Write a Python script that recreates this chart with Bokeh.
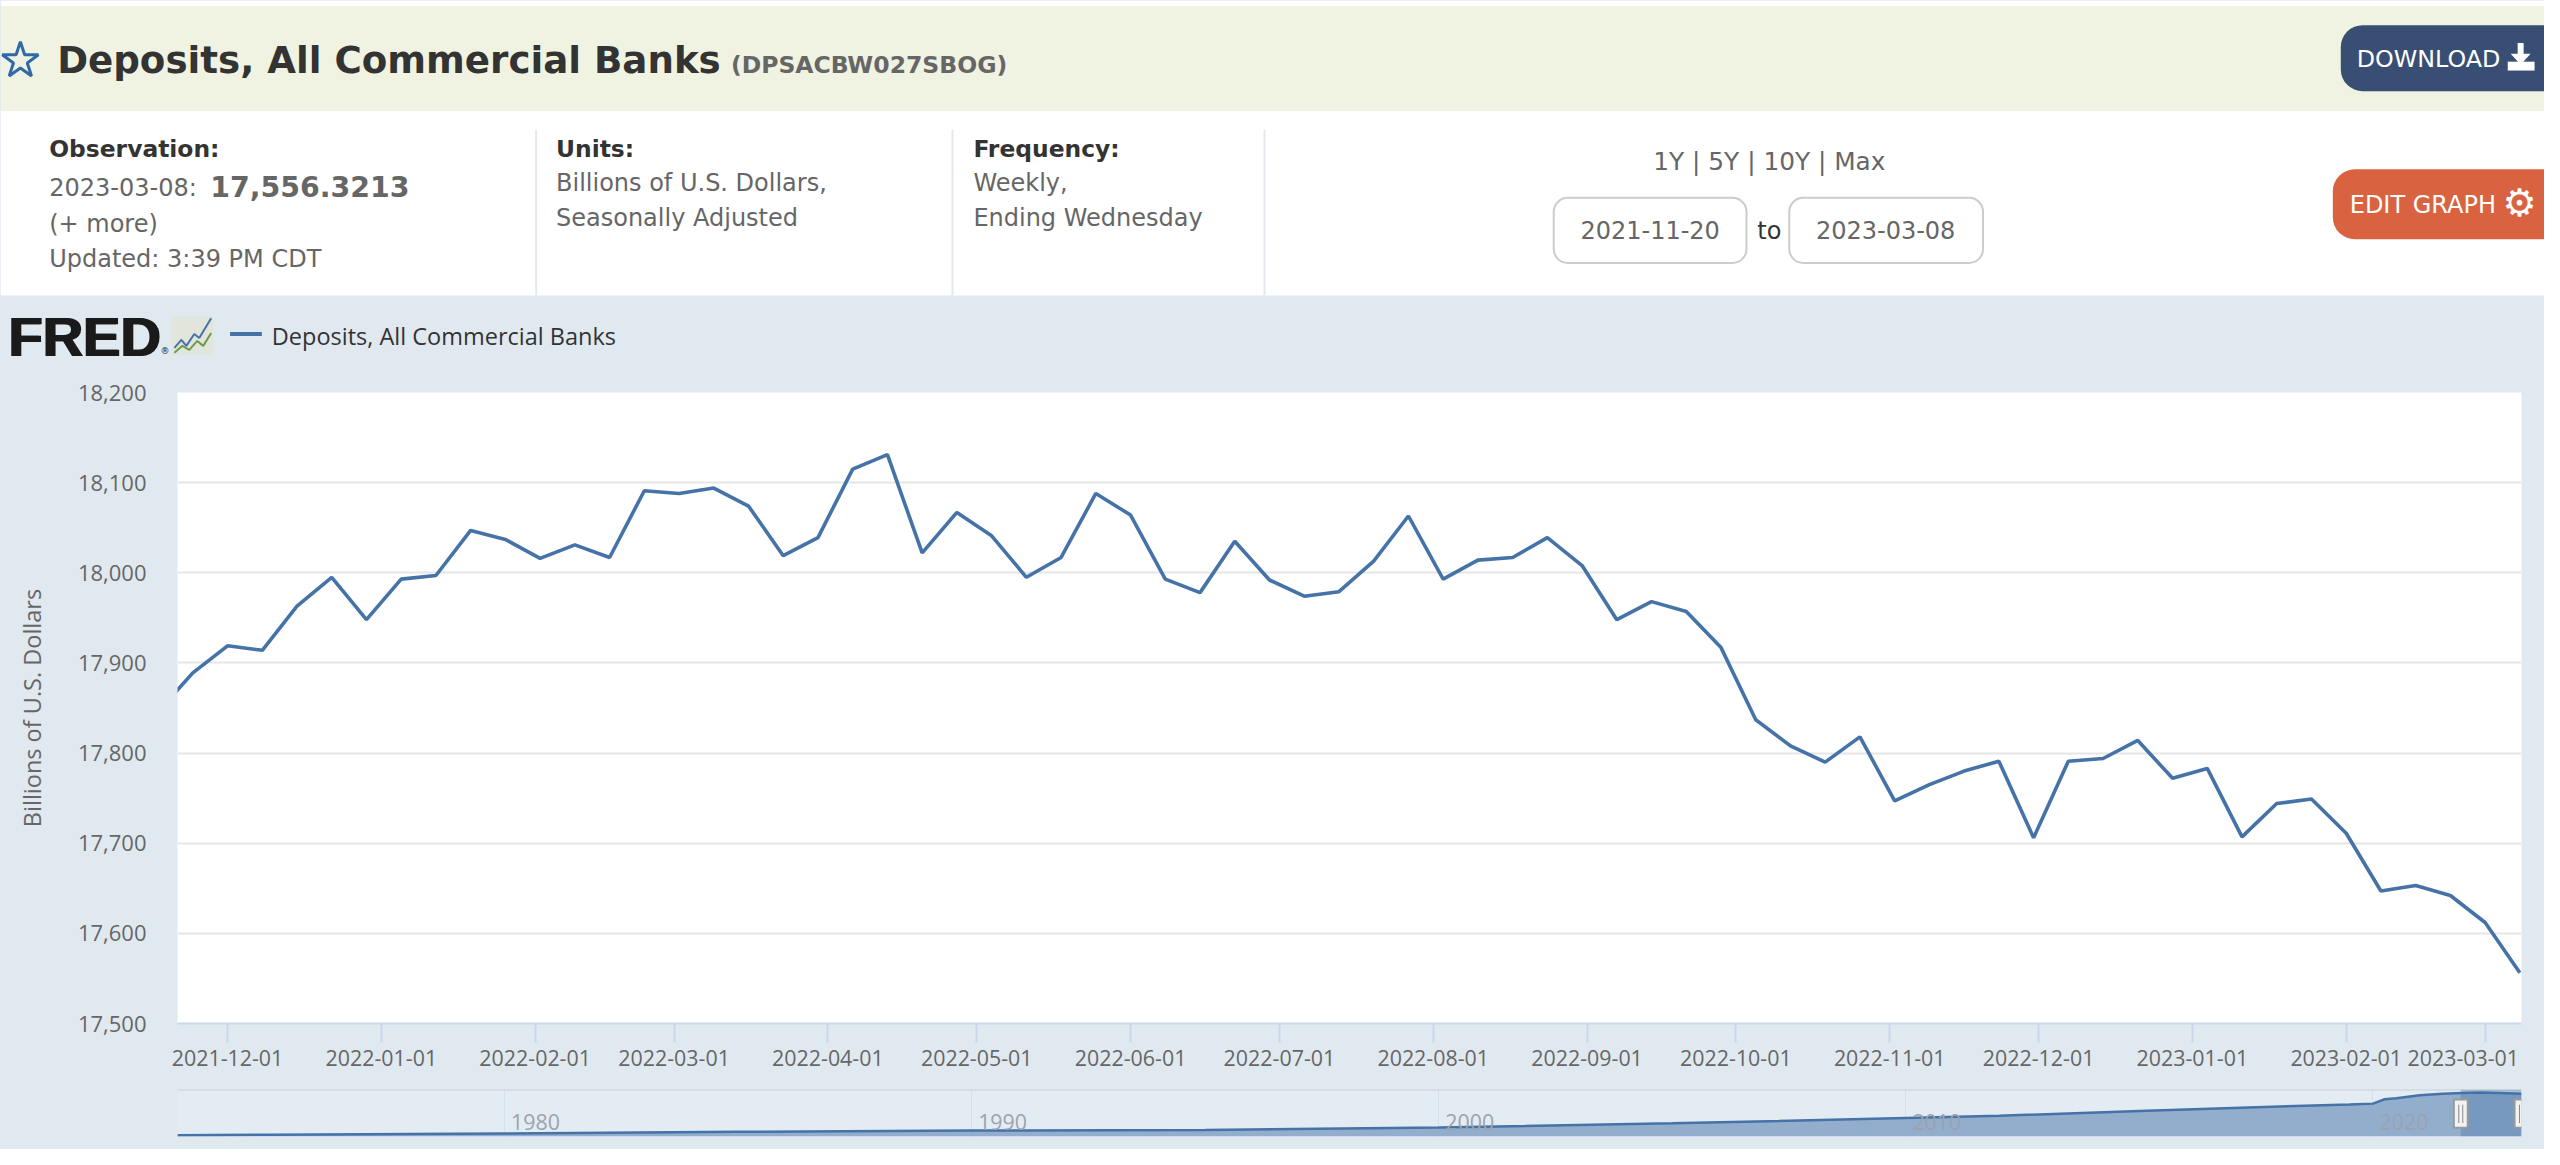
"""Deposits, All Commercial Banks: FRED page header, weekly chart and range navigator."""

import pandas as pd
from bokeh.core.properties import value
from bokeh.embed import file_html
from bokeh.layouts import column
from bokeh.models import (BoxAnnotation, FixedTicker, Label, LabelSet, LinearAxis,
                          ColumnDataSource, NumeralTickFormatter, Range1d, Span)
from bokeh.plotting import figure
from bokeh.resources import INLINE

# weekly values (billions of dollars)
week_start = "2021-11-17"
week_end = "2023-03-08"
deposits = [
    17846, 17889, 17919, 17914, 17963, 17995, 17948, 17993, 17997, 18047, 18037, 18016,
    18031, 18017, 18091, 18088, 18094, 18074, 18019, 18039, 18115, 18131, 18022, 18067,
    18041, 17995, 18017, 18088, 18064, 17993, 17978, 18035, 17992, 17974, 17979, 18013,
    18063, 17993, 18014, 18017, 18039, 18008, 17948, 17968, 17957, 17917, 17837, 17808,
    17790, 17818, 17747, 17765, 17780, 17791, 17706, 17791, 17794, 17814, 17772, 17783,
    17707, 17744, 17749, 17711, 17647, 17653, 17642, 17612, 17556.3213,
]
y_ticks = [17500, 17600, 17700, 17800, 17900, 18000, 18100, 18200]
x_tick_dates = [
    "2021-12-01", "2022-01-01", "2022-02-01", "2022-03-01", "2022-04-01", "2022-05-01",
    "2022-06-01", "2022-07-01", "2022-08-01", "2022-09-01", "2022-10-01", "2022-11-01",
    "2022-12-01", "2023-01-01", "2023-02-01", "2023-03-01",
]

# full history shown in the navigator strip
nav_years = [1973, 1975, 1980, 1985, 1990, 1995, 2000, 2005, 2010, 2012, 2015, 2018,
             2019.5, 2020.0, 2020.25, 2020.5, 2021, 2021.5, 2021.9, 2022.3, 2022.7, 2023.18]
nav_values = [520, 700, 1200, 1900, 2450, 2650, 3700, 5400, 7600, 8500, 10500, 12300,
              13100, 13500, 15300, 15700, 16900, 17600, 17900, 18100, 17900, 17556]
nav_ticks = [1980, 1990, 2000, 2010, 2020]

PAGE_BLUE = "#e1e9f0"
LINE_BLUE = "#4572a7"
GREY_TEXT = "#666666"
CHART_FONT = "Open Sans"
PAGE_FONT = "DejaVu Sans"


def to_ms(day):
    return pd.Timestamp(day).value / 1e6


def add_text(p, x, y, text, size, color=GREY_TEXT, style="normal", font=PAGE_FONT, align="left"):
    p.add_layout(Label(x=x, y=y, text=text, text_font=font, text_font_size=f"{size}px",
                       text_font_style=style, text_color=color, text_align=align,
                       text_baseline="middle"))


def add_box(p, left, right, top, bottom, fill, line=None, radius=0):
    p.add_layout(BoxAnnotation(left=left, right=right, top=top, bottom=bottom, fill_color=fill,
                               fill_alpha=1, line_color=line, line_alpha=1, line_width=2,
                               border_radius=radius))


def make_header():
    # reference pixels as data units, so the boxes and texts sit where they do in the page
    p = figure(width=2544, height=372, x_range=Range1d(0, 2560), y_range=Range1d(377, 0),
               output_backend="svg", toolbar_location=None, min_border=0,
               background_fill_color=PAGE_BLUE, border_fill_color=PAGE_BLUE)
    p.frame_align = False
    p.axis.visible = False
    p.grid.visible = False
    p.outline_line_color = None

    p.quad(left=0, right=2560, top=0, bottom=6, fill_color="white", line_color=None)
    p.quad(left=0, right=2560, top=6, bottom=112, fill_color="#f0f3e1", line_color=None)
    p.quad(left=0, right=2560, top=112, bottom=299, fill_color="white", line_color=None)
    p.segment(x0=[539, 958, 1272], x1=[539, 958, 1272], y0=[131] * 3, y1=[299] * 3,
              line_color="#e3e9ee", line_width=2)

    p.scatter(x=[20], y=[61], marker="star", size=38, fill_color=None,
              line_color="#2f69a6", line_width=3)
    add_text(p, 57, 60, "Deposits, All Commercial Banks", 37.2, "#333333", "bold")
    add_text(p, 735, 65, "(DPSACBW027SBOG)", 23.5, GREY_TEXT, "bold")

    add_text(p, 49, 150, "Observation:", 23.4, "#333333", "bold")
    add_text(p, 49, 190, "2023-03-08:", 24)
    add_text(p, 211, 189, "17,556.3213", 28.4, GREY_TEXT, "bold")
    add_text(p, 49, 227, "(+ more)", 24)
    add_text(p, 49, 262, "Updated: 3:39 PM CDT", 24)
    add_text(p, 559, 150, "Units:", 23.4, "#333333", "bold")
    add_text(p, 559, 185, "Billions of U.S. Dollars,", 24)
    add_text(p, 559, 220, "Seasonally Adjusted", 24)
    add_text(p, 979, 150, "Frequency:", 23.4, "#333333", "bold")
    add_text(p, 979, 185, "Weekly,", 24)
    add_text(p, 979, 220, "Ending Wednesday", 24)

    add_text(p, 1780, 163, "1Y | 5Y | 10Y | Max", 24.8, align="center")
    add_box(p, 1563, 1757, 200, 266, "white", "#cccccc", 14)
    add_box(p, 1800, 1995, 200, 266, "white", "#cccccc", 14)
    add_text(p, 1660, 233, "2021-11-20", 24, align="center")
    add_text(p, 1780, 234, "to", 24, "#333333", align="center")
    add_text(p, 1897, 233, "2023-03-08", 24, align="center")

    add_box(p, 2355, 2580, 25, 92, "#384e73", None, 22)
    add_text(p, 2371, 59, "DOWNLOAD", 23.8, "white")
    p.patch(x=[2533, 2539, 2539, 2546, 2536, 2526, 2533], y=[43, 43, 54, 54, 65, 54, 54],
            fill_color="white", line_color=None, level="overlay")
    p.quad(left=2523, right=2550, top=62, bottom=71, fill_color="white", line_color=None, level="overlay")
    add_box(p, 2347, 2580, 171, 242, "#d96341", None, 22)
    add_text(p, 2364, 207, "EDIT GRAPH", 24, "white")
    add_text(p, 2535, 205, "\u2699", 38, "white", "bold", align="center")

    # logo and legend strip
    add_text(p, 7, 341, "FRED", 56, "#1a1a1a", "bold", "Liberation Sans")
    add_text(p, 9, 341, "FRED", 56, "#1a1a1a", "bold", "Liberation Sans")
    add_text(p, 161, 355, "\u00ae", 9, "#1a1a1a")
    p.quad(left=172, right=214, top=320, bottom=359, fill_color="#e2e5dc", line_color=None)
    p.line(x=[175, 182, 187, 195, 200, 212], y=[352, 344, 350, 338, 342, 322],
           line_color=LINE_BLUE, line_width=2)
    p.line(x=[175, 183, 190, 198, 204, 212], y=[357, 350, 354, 345, 350, 337],
           line_color="#6f9a4e", line_width=2)
    p.line(x=[231, 263], y=[338, 338], line_color=LINE_BLUE, line_width=4)
    add_text(p, 273, 340, "Deposits, All Commercial Banks", 23.5, "#333333", font=CHART_FONT)
    return p


def make_chart():
    weeks = pd.date_range(week_start, week_end, freq="7D")
    source = ColumnDataSource(data=dict(week=weeks, deposits=deposits))

    p = figure(width=2544, height=708, x_axis_type="datetime", output_backend="svg",
               toolbar_location=None,
               x_range=Range1d(pd.Timestamp("2021-11-20 22:00"), pd.Timestamp("2023-03-08 08:00")),
               y_range=Range1d(17500, 18200),
               min_border_left=177, min_border_right=23, min_border_top=20, min_border_bottom=57,
               background_fill_color="white", border_fill_color=PAGE_BLUE)
    p.outline_line_color = None
    p.line(x="week", y="deposits", source=source, line_color=LINE_BLUE, line_width=3.6)

    # first axis: the line and the tick marks only
    tick_ms = [to_ms(d) for d in x_tick_dates]
    p.xaxis.ticker = FixedTicker(ticks=tick_ms)
    p.xaxis.major_label_overrides = {ms: "" for ms in tick_ms}
    p.xaxis.major_label_text_font_size = "1px"
    p.xaxis.major_label_standoff = 0
    p.xaxis.axis_line_color = "#ccd6eb"
    p.xaxis.axis_line_width = 2
    p.xaxis.major_tick_line_color = "#ccd6eb"
    p.xaxis.major_tick_line_width = 2
    p.xaxis.major_tick_out = 19
    p.xaxis.major_tick_in = 0
    p.xaxis.minor_tick_line_color = None

    # second axis: the date labels; the last one sits 4.4 days left of its tick to stay inside the chart
    label_ms = tick_ms[:-1] + [tick_ms[-1] - 4.4 * 86400000]
    labels_axis = LinearAxis(ticker=FixedTicker(ticks=label_ms),
                             major_label_overrides=dict(zip(label_ms, x_tick_dates)),
                             axis_line_color=None, major_tick_line_color=None,
                             minor_tick_line_color=None, major_label_standoff=1,
                             major_label_text_font=CHART_FONT, major_label_text_font_size="21.4px",
                             major_label_text_color=GREY_TEXT)
    p.add_layout(labels_axis, "below")

    p.yaxis.ticker = FixedTicker(ticks=y_ticks)
    p.yaxis.formatter = NumeralTickFormatter(format="0,0")
    p.yaxis.axis_line_color = None
    p.yaxis.major_tick_line_color = None
    p.yaxis.minor_tick_line_color = None
    p.yaxis.major_label_standoff = 25
    p.yaxis.major_label_text_font = CHART_FONT
    p.yaxis.major_label_text_font_size = "22px"
    p.yaxis.major_label_text_color = GREY_TEXT
    p.yaxis.axis_label = "Billions of U.S. Dollars"
    p.yaxis.axis_label_standoff = 27
    p.yaxis.axis_label_text_font = CHART_FONT
    p.yaxis.axis_label_text_font_size = "23.5px"
    p.yaxis.axis_label_text_font_style = "normal"
    p.yaxis.axis_label_text_color = GREY_TEXT

    p.xgrid.visible = False
    p.ygrid.grid_line_color = "#e6e6e6"
    p.ygrid.grid_line_width = 2
    return p


def make_navigator():
    sel_start, sel_end = 2021.88, 2023.18
    p = figure(width=2544, height=69, x_range=Range1d(1973, sel_end), y_range=Range1d(0, 19300),
               output_backend="svg", toolbar_location=None,
               min_border_left=177, min_border_right=23, min_border_top=9, min_border_bottom=13,
               background_fill_color="#e4ecf3", border_fill_color=PAGE_BLUE)
    p.outline_line_color = None
    p.axis.visible = False
    p.ygrid.visible = False
    p.xgrid.ticker = FixedTicker(ticks=nav_ticks)
    p.xgrid.grid_line_color = "#d6e0ea"

    p.varea(x=nav_years, y1=[0] * len(nav_years), y2=nav_values, fill_color="#93adcd")
    p.line(x=nav_years, y=nav_values, line_color=LINE_BLUE, line_width=2.5)
    p.add_layout(Span(location=19300, dimension="width", line_color="#c8ced6", line_width=2))

    labels = ColumnDataSource(data=dict(x=nav_ticks, y=[6000] * len(nav_ticks), t=[str(y) for y in nav_ticks]))
    p.add_layout(LabelSet(x="x", y="y", text="t", source=labels, x_offset=31, text_align="center",
                          text_baseline="middle", text_font=value(CHART_FONT), text_font_size="21.4px",
                          text_color="#9ba3ad"))

    p.add_layout(BoxAnnotation(left=sel_start, right=sel_end, fill_color="#4572a7", fill_alpha=0.35,
                               line_color=None))
    for centre in (sel_start, sel_end):
        p.add_layout(BoxAnnotation(left=centre - 7 / 47, right=centre + 7 / 47, top=15200, bottom=3600,
                                   fill_color="#f2f2f2", fill_alpha=1, line_color="#999999",
                                   line_alpha=1, line_width=2, level="overlay"))
        for grip in (-2 / 47, 2 / 47):
            p.add_layout(BoxAnnotation(left=centre + grip - 0.5 / 47, right=centre + grip + 0.5 / 47,
                                       top=13000, bottom=5500, fill_color="#888888", fill_alpha=1,
                                       line_color=None, level="overlay"))
    return p


layout = column(make_header(), make_chart(), make_navigator(), spacing=0,
                styles={"background-color": PAGE_BLUE})
open("out.html", "w").write(file_html(layout, INLINE))
